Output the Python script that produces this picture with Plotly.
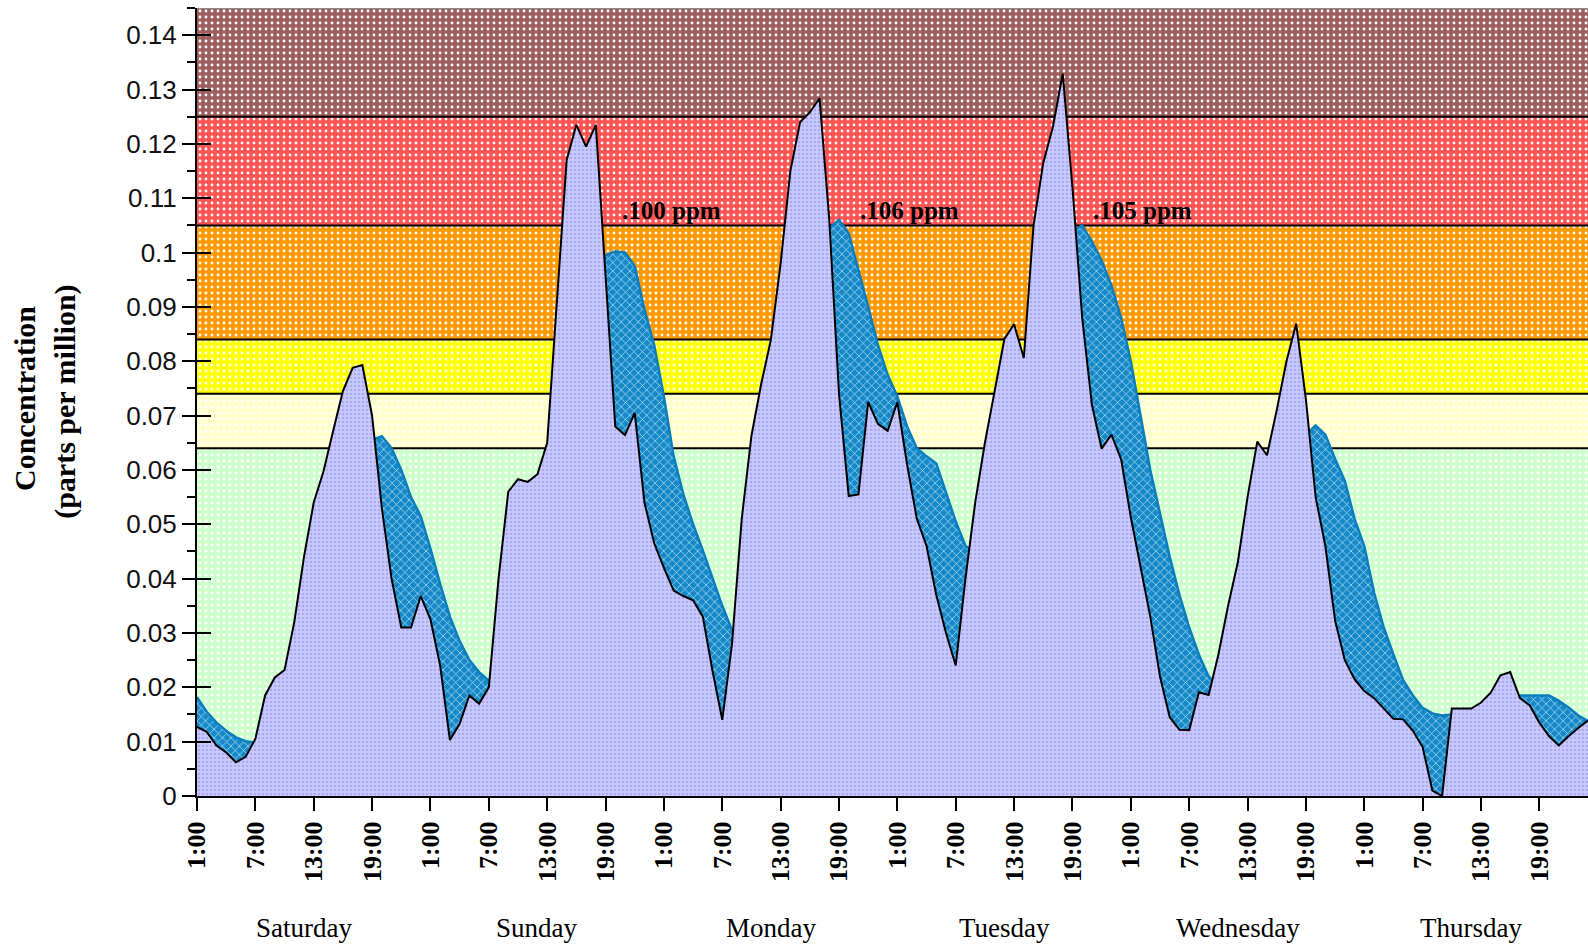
import plotly.graph_objects as go

# ---------------- data ----------------
hours = list(range(144))  # hours after Saturday 1:00

one_hour = [
    0.0127, 0.0118, 0.0093, 0.0080, 0.0062, 0.0072, 0.0105, 0.0185, 0.0218, 0.0232,
    0.0320, 0.0440, 0.0540, 0.0597, 0.0672, 0.0745, 0.0788, 0.0793, 0.0700, 0.0530,
    0.0400, 0.0310, 0.0310, 0.0368, 0.0325, 0.0240, 0.0103, 0.0133, 0.0185, 0.0170,
    0.0200, 0.0400, 0.0560, 0.0583, 0.0578, 0.0592, 0.0650, 0.0910, 0.1170, 0.1235,
    0.1195, 0.1235, 0.0950, 0.0680, 0.0664, 0.0705, 0.0540, 0.0465, 0.0420, 0.0378,
    0.0368, 0.0360, 0.0330, 0.0230, 0.0140, 0.0280, 0.0510, 0.0663, 0.0758, 0.0840,
    0.0980, 0.1150, 0.1240, 0.1258, 0.1284, 0.1060, 0.0740, 0.0552, 0.0555, 0.0725,
    0.0685, 0.0672, 0.0725, 0.0610, 0.0510, 0.0460, 0.0370, 0.0300, 0.0240, 0.0400,
    0.0540, 0.0650, 0.0745, 0.0841, 0.0868, 0.0806, 0.1050, 0.1165, 0.1232, 0.1329,
    0.1120, 0.0880, 0.0720, 0.0639, 0.0665, 0.0620, 0.0513, 0.0420, 0.0330, 0.0220,
    0.0145, 0.0122, 0.0121, 0.0191, 0.0186, 0.0260, 0.0350, 0.0430, 0.0550, 0.0652,
    0.0627, 0.0710, 0.0800, 0.0869, 0.0730, 0.0550, 0.0460, 0.0323, 0.0250, 0.0215,
    0.0193, 0.0180, 0.0160, 0.0142, 0.0141, 0.0120, 0.0090, 0.0010, 0.0000, 0.0161,
    0.0161, 0.0161, 0.0172, 0.0190, 0.0222, 0.0228, 0.0180, 0.0167, 0.0135, 0.0110,
    0.0093, 0.0110, 0.0125, 0.0139,
]

eight_hour = [
    0.0182, 0.0155, 0.0135, 0.0120, 0.0108, 0.0101, 0.0098, 0.0110, 0.0125, 0.0145,
    0.0175, 0.0215, 0.0265, 0.0330, 0.0400, 0.0475, 0.0550, 0.0615, 0.0655, 0.0662,
    0.0640, 0.0600, 0.0550, 0.0515, 0.0455, 0.0390, 0.0330, 0.0285, 0.0250, 0.0228,
    0.0212, 0.0215, 0.0240, 0.0280, 0.0330, 0.0390, 0.0450, 0.0540, 0.0650, 0.0760,
    0.0860, 0.0950, 0.0995, 0.1002, 0.1000, 0.0975, 0.0895, 0.0830, 0.0735, 0.0625,
    0.0555, 0.0500, 0.0452, 0.0400, 0.0350, 0.0305, 0.0300, 0.0320, 0.0360, 0.0420,
    0.0500, 0.0600, 0.0700, 0.0800, 0.0900, 0.1045, 0.1060, 0.1035, 0.0970, 0.0900,
    0.0830, 0.0775, 0.0735, 0.0680, 0.0640, 0.0625, 0.0612, 0.0560, 0.0505, 0.0460,
    0.0450, 0.0470, 0.0500, 0.0540, 0.0600, 0.0660, 0.0740, 0.0830, 0.0920, 0.0990,
    0.1040, 0.1050, 0.1020, 0.0985, 0.0940, 0.0880, 0.0800, 0.0700, 0.0600, 0.0520,
    0.0440, 0.0370, 0.0310, 0.0260, 0.0220, 0.0200, 0.0210, 0.0240, 0.0290, 0.0350,
    0.0410, 0.0480, 0.0550, 0.0610, 0.0665, 0.0682, 0.0665, 0.0620, 0.0580, 0.0510,
    0.0460, 0.0375, 0.0310, 0.0260, 0.0213, 0.0185, 0.0162, 0.0152, 0.0148, 0.0150,
    0.0152, 0.0155, 0.0160, 0.0168, 0.0175, 0.0180, 0.0185, 0.0185, 0.0185, 0.0185,
    0.0175, 0.0163, 0.0148, 0.0138,
]

band_edges = [0.0, 0.064, 0.074, 0.084, 0.105, 0.125, 0.145]
band_colors = ["#CCFFCC", "#FFFFCC", "#FFFF00", "#FF9900", "#FF5454", "#9E5E5E"]

tick_hours = list(range(0, 144, 6))
tick_labels = ["1:00", "7:00", "13:00", "19:00"] * 6

days = ["Saturday", "Sunday", "Monday", "Tuesday", "Wednesday", "Thursday"]
day_noon_hours = [11 + 24 * i for i in range(6)]

y_ticks = [i / 100 for i in range(15)]
y_tick_labels = ["0"] + [f"{v:.2f}".rstrip("0") for v in y_ticks[1:]]

peak_labels = [".100 ppm", ".106 ppm", ".105 ppm"]
peak_label_hours = [43.5, 68.0, 91.9]
peak_label_level = 0.1078

X_END = 143

# ---------------- figure ----------------
fig = go.Figure()

# AQI bands
for lo, hi, col in zip(band_edges[:-1], band_edges[1:], band_colors):
    fig.add_trace(go.Scatter(
        x=[0, X_END, X_END, 0, 0], y=[lo, lo, hi, hi, lo],
        mode="lines", fill="toself", line=dict(width=0),
        fillcolor=col,
        fillpattern=dict(shape=".", fgcolor="white", bgcolor=col,
                         size=6, solidity=0.18, fillmode="replace"),
        hoverinfo="skip", showlegend=False))

for edge in band_edges[1:-1]:
    fig.add_trace(go.Scatter(
        x=[0, X_END], y=[edge, edge], mode="lines",
        line=dict(color="black", width=2), hoverinfo="skip", showlegend=False))
fig.add_trace(go.Scatter(
    x=[0, X_END], y=[band_edges[-1], band_edges[-1]], mode="lines",
    line=dict(color="#8a8a8a", width=2), hoverinfo="skip", showlegend=False))

# 8-hour average
fig.add_trace(go.Scatter(
    x=hours, y=eight_hour, mode="lines", fill="tozeroy",
    line=dict(color="#0A7DBE", width=2.5),
    fillcolor="#1688C8",
    fillpattern=dict(shape="x", fgcolor="#A6DCF4", bgcolor="#1688C8",
                     size=6, solidity=0.25, fillmode="replace"),
    name="8-hour average", showlegend=False))

# 1-hour concentration
fig.add_trace(go.Scatter(
    x=hours, y=one_hour, mode="lines", fill="tozeroy",
    line=dict(color="black", width=2),
    fillcolor="#C6C6FF",
    fillpattern=dict(shape=".", fgcolor="#A9A9F4", bgcolor="#CACAFF",
                     size=4, solidity=0.35, fillmode="replace"),
    name="1-hour", showlegend=False))

# invisible trace for the inside-tick overlay axis
fig.add_trace(go.Scatter(x=[0], y=[0], yaxis="y2", mode="markers",
                         marker=dict(opacity=0), hoverinfo="skip", showlegend=False))

annotations = []
for d, h in zip(days, day_noon_hours):
    annotations.append(dict(
        x=h, y=-0.1675, xref="x", yref="paper", text=d, showarrow=False,
        xanchor="center", yanchor="middle",
        font=dict(family="Liberation Serif", size=27, color="black")))

for t, h in zip(peak_labels, peak_label_hours):
    annotations.append(dict(
        x=h, y=peak_label_level, xref="x", yref="y", text=t, showarrow=False,
        xanchor="left", yanchor="middle",
        font=dict(family="Liberation Serif", size=25, color="black", weight="bold")))

annotations.append(dict(
    x=-0.1244, y=0.505, xref="paper", yref="paper", text="Concentration",
    showarrow=False, textangle=-90, xanchor="center", yanchor="middle",
    font=dict(family="Liberation Serif", size=30, color="black", weight="bold")))
annotations.append(dict(
    x=-0.0950, y=0.5, xref="paper", yref="paper", text="(parts per million)",
    showarrow=False, textangle=-90, xanchor="center", yanchor="middle",
    font=dict(family="Liberation Serif", size=30, color="black", weight="bold")))

fig.update_layout(
    width=1588, height=946,
    margin=dict(l=197, r=0, t=8, b=150),
    plot_bgcolor="white", paper_bgcolor="white",
    showlegend=False,
    annotations=annotations,
    xaxis=dict(
        range=[0, X_END], tickmode="array", tickvals=tick_hours, ticktext=tick_labels,
        tickangle=-90, ticks="outside", ticklen=13, tickwidth=2, tickcolor="black",
        tickfont=dict(family="Liberation Serif", size=26, color="black", weight="bold"),
        showline=True, linecolor="black", linewidth=2,
        showgrid=False, zeroline=False),
    yaxis=dict(
        range=[0, 0.145], tickmode="array", tickvals=y_ticks, ticktext=y_tick_labels,
        ticks="outside", ticklen=13, tickwidth=2, tickcolor="black",
        minor=dict(dtick=0.005, tick0=0, ticks="outside", ticklen=8,
                   tickwidth=2, tickcolor="black"),
        tickfont=dict(family="Liberation Sans", size=26, color="#111111"),
        showline=True, linecolor="black", linewidth=2,
        showgrid=False, zeroline=False),
    yaxis2=dict(
        overlaying="y", side="left", range=[0, 0.145], tickmode="array",
        tickvals=y_ticks, ticks="inside", ticklen=14, tickwidth=2, tickcolor="black",
        showticklabels=False, showgrid=False, zeroline=False, showline=False),
)

fig.write_html("out.html",
               config={"displayModeBar": False},
               post_script="document.body.style.margin='0';document.body.style.overflow='hidden';")
